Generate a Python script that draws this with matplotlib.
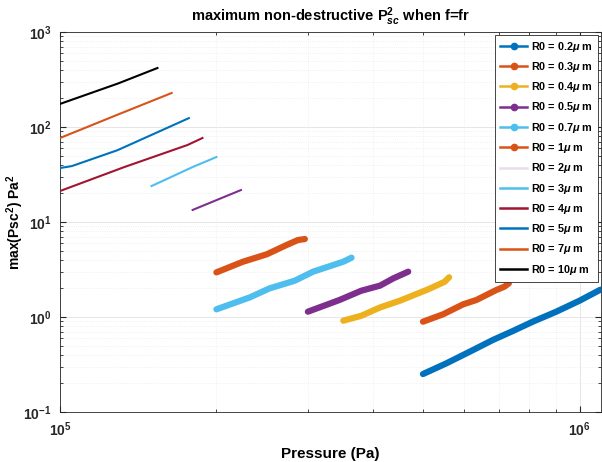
import matplotlib
matplotlib.use("Agg")
import matplotlib.pyplot as plt
from matplotlib.lines import Line2D

plt.rcParams['font.family'] = ['Liberation Sans', 'DejaVu Sans']
plt.rcParams['font.weight'] = 'bold'
plt.rcParams['mathtext.fontset'] = 'custom'
plt.rcParams['mathtext.rm'] = 'Liberation Sans:bold'
plt.rcParams['mathtext.it'] = 'Liberation Sans:italic:bold'
plt.rcParams['mathtext.bf'] = 'Liberation Sans:bold'

# R0 values (micrometres)
labels = ['0.2', '0.3', '0.4', '0.5', '0.7', '1', '2', '3', '4', '5', '7', '10']
colors = ['#0072BD', '#D95319', '#EDB120', '#7E2F8E', '#4DBEEE', '#D95319',
          '#7E2F8E', '#4DBEEE', '#A2142F', '#0072BD', '#D95319', '#000000']
legend_colors = colors[:6] + ['#E6DDEB'] + colors[7:]
with_markers = [True] * 6 + [False] * 6

p_02 = [4.996e5, 5.54e5, 6.15e5, 6.81e5, 7.44e5, 8.13e5, 9.02e5, 1.0e6, 1.093e6, 1.12e6]
v_02 = [0.251, 0.325, 0.432, 0.573, 0.712, 0.893, 1.138, 1.485, 1.92, 2.0]
p_03 = [4.996e5, 5.46e5, 5.97e5, 6.33e5, 6.91e5, 7.17e5, 7.31e5]
v_03 = [0.893, 1.067, 1.36, 1.51, 1.92, 2.09, 2.26]
p_04 = [3.51e5, 3.80e5, 4.13e5, 4.51e5, 5.11e5, 5.50e5, 5.61e5]
v_04 = [0.915, 1.03, 1.26, 1.485, 1.955, 2.35, 2.62]
p_05 = [3.00e5, 3.45e5, 3.80e5, 4.13e5, 4.38e5, 4.68e5]
v_05 = [1.138, 1.51, 1.89, 2.14, 2.55, 3.00]
p_07 = [2.00e5, 2.32e5, 2.53e5, 2.83e5, 3.07e5, 3.51e5, 3.64e5]
v_07 = [1.205, 1.61, 2.00, 2.41, 3.00, 3.82, 4.21]
p_1 = [2.00e5, 2.25e5, 2.50e5, 2.73e5, 2.87e5, 2.96e5]
v_1 = [2.95, 3.82, 4.57, 5.73, 6.46, 6.62]
p_2 = [1.80e5, 2.23e5]
v_2 = [13.4, 21.7]
p_3 = [1.50e5, 1.80e5, 2.0e5]
v_3 = [23.9, 37.9, 48.3]
p_4 = [1.0e5, 1.33e5, 1.76e5, 1.88e5]
v_4 = [21.2, 37.9, 64.7, 76.6]
p_5 = [1.0e5, 1.054e5, 1.29e5, 1.77e5]
v_5 = [37.0, 38.8, 57.0, 124.0]
p_7 = [1.0e5, 1.30e5, 1.64e5]
v_7 = [76.6, 137.0, 228.0]
p_10 = [1.0e5, 1.295e5, 1.54e5]
v_10 = [175.0, 288.0, 418.0]

pressures = [p_02, p_03, p_04, p_05, p_07, p_1, p_2, p_3, p_4, p_5, p_7, p_10]
values = [v_02, v_03, v_04, v_05, v_07, v_1, v_2, v_3, v_4, v_5, v_7, v_10]

fig = plt.figure(figsize=(6.02, 4.62), dpi=100)
ax = fig.add_axes([0.0997, 0.1082, 0.8987, 0.8225])

handles = []
for i in range(len(labels)):
    if with_markers[i]:
        ax.plot(pressures[i], values[i], color=colors[i], lw=4.5,
                solid_capstyle='round', solid_joinstyle='round', zorder=3)
        h = Line2D([], [], color=legend_colors[i], lw=1.8, marker='.', markersize=9)
    else:
        ax.plot(pressures[i], values[i], color=colors[i], lw=1.5, zorder=3)
        h = Line2D([], [], color=legend_colors[i], lw=1.8)
    handles.append(h)

ax.set_xscale('log')
ax.set_yscale('log')
ax.set_xlim(1e5, 1.1e6)
ax.set_ylim(1e-1, 1e3)

ax.grid(True, which='major', color='#e6e6e6', lw=0.7)
ax.grid(True, which='minor', color='#ececec', lw=0.6, linestyle=':')
ax.set_axisbelow(True)
ax.tick_params(which='both', direction='in', top=True, right=True,
               colors='#262626', labelsize=10)
ax.tick_params(which='major', length=4, pad=6)
ax.tick_params(which='minor', length=2)
for s in ax.spines.values():
    s.set_color('#262626')
    s.set_linewidth(0.6)

ax.set_title('maximum non-destructive P$_{sc}^{2}$ when f=fr', fontsize=10.5,
             fontweight='bold', pad=8)
ax.set_xlabel('Pressure (Pa)', fontsize=11, fontweight='bold', labelpad=6)
ax.set_ylabel('max(Psc$^{2}$) Pa$^{2}$', fontsize=10, fontweight='bold', labelpad=3)
ax.yaxis.set_label_coords(-0.062, 0.5)

leg = ax.legend(handles, ['R0 = ' + l + r'$\mu$ m' for l in labels],
                loc='upper right', fontsize=7.8, frameon=True, fancybox=False,
                edgecolor='#262626', framealpha=1, handlelength=2.5,
                labelspacing=0.58, borderaxespad=0.25, handletextpad=0.4,
                borderpad=0.45)
leg.get_frame().set_linewidth(0.6)

fig.savefig('out.png', dpi=100)
